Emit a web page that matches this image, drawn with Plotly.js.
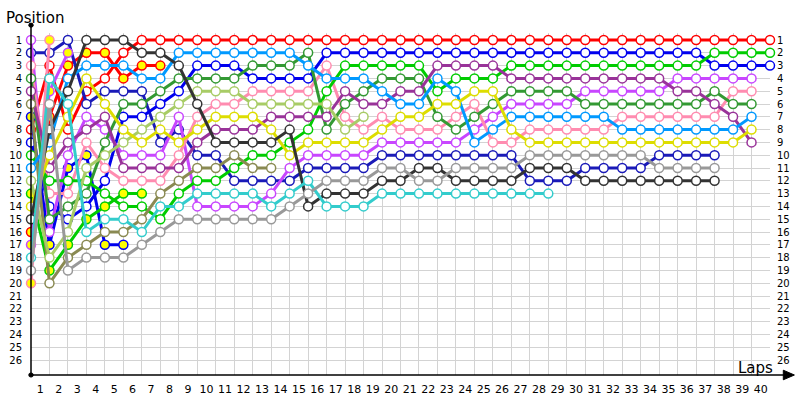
<!DOCTYPE html>
<html><head><meta charset="utf-8">
<script src="https://cdn.plot.ly/plotly-3.0.1.min.js"></script>
<style>body{margin:0;background:#fff}#chart{width:800px;height:400px}</style>
</head><body><div id="chart"></div>
<script>
// positions per lap, index = lap number (0 = grid)
const drivers = ["R","RY","DB","B","BY","V","VY","P","PY","DG","G","GY","PU","OL","LB","LG","Y","K","C","GR"];
const R  = [8,3,8,5,4,2,1,1,1,1,1,1,1,1,1,1,1,1,1,1,1,1,1,1,1,1,1,1,1,1,1,1,1,1,1,1,1,1,1,1,1];
const RY = [16,7,3,2,2,4,3,3];
const DB = [2,2,1,6,5,5,5,9,8,10,10,12,12,12,12,11,11,11,11,10,10,10,10,10,10,10,10,12,12,12,11,11,11,11,10,10,10,10];
const B  = [9,14,15,14,12,7,7,6,5,3,3,3,4,4,4,4,2,2,2,2,2,2,2,2,2,2,2,2,2,2,2,2,2,2,2,2,2,3,3,3,3];
const BY = [7,17,11,10,17,17];
const V  = [1,16,10,7,8,10,10,10,7,14,14,14,14,13,11,10,10,10,10,9,9,9,9,9,8,7,6,6,6,6,5,5,5,5,5,4,4,4,4,4];
const VY = [17,5,2];
const P  = [3,13,13,9,11,12,12,12,10,7,6,6,5,5,5,5,3,7,8,7,8,8,8,7,6,9,9,8,8,8,8,8,7,7,7,7,7,7,5,5];
const PY = [20,1];
const DG = [4,15,14,13,9,6,6,5,4,4,4,4,3,3,3,2,8,6,5,4,4,4,7,8,7,6,5,5,5,5,6,6,6,6,6,6,6,5,6,6];
const G  = [10,12,12,12,13,14,14,15,13,12,12,11,10,10,9,8,5,3,3,3,3,3,5,4,4,4,3,3,3,3,3,3,3,3,3,3,3,2,2,2,2];
const GY = [13,19,17,15,14,13,13];
const PU = [5,11,9,8,7,11,11,11,11,9,8,8,8,7,7,7,7,5,6,6,5,5,3,3,3,3,4,4,4,4,4,4,4,4,4,5,5,6,7,9];
const OL = [6,20,18,17,16,16,15,13,12,11,11,10,11,11];
const LB = [11,9,4,3,3,3,4,4,2,2,2,2,2,2,2,3,4,4,4,5,6,6,4,5,9,8,7,7,7,7,7,7,8,8,8,8,8,8,8,7];
const LG = [12,18,16,11,10,9,8,7,6,5,5,5,6,6,6,6,6,8,7];
const Y  = [14,10,7,4,6,8,9,8,9,8,7,7,7,8,10,9,9,9,9,8,7,7,6,6,5,5,8,9,9,9,9,9,9,9,9,9,9,9,9,8];
const K  = [15,8,5,1,1,1,2,2,3,6,9,9,9,9,8,14,13,13,13,12,12,11,11,12,12,12,12,11,11,11,12,12,12,12,12,12,12,12];
const C  = [18,4,6,16,15,15,16,14,14,13,13,13,13,14,13,12,14,14,14,13,13,13,13,13,13,13,13,13,13];
const GR = [19,6,19,18,18,18,17,16,15,15,15,15,15,15,14,13,12,12,12,11,11,12,12,11,11,11,11,10,10,10,10,10,10,10,11,11,11,11];
const lapLabels = Array.from({length:40},(_,i)=>String(i+1));
const posLabels = Array.from({length:26},(_,i)=>i+1);

const series = {R,RY,DB,B,BY,V,VY,P,PY,DG,G,GY,PU,OL,LB,LG,Y,K,C,GR};
const colors = {R:"#ff0000",RY:"#ff0000",DB:"#1a1ab8",B:"#0000ee",BY:"#0000ee",V:"#c846ff",VY:"#c846ff",
  P:"#ff8cb0",PY:"#ff8cb0",DG:"#339933",G:"#00cc00",GY:"#00cc00",PU:"#993399",OL:"#8a8a52",
  LB:"#0099ff",LG:"#a8cc66",Y:"#dddd00",K:"#333333",C:"#33cccc",GR:"#999999"};
const yellowFill = {RY:1,BY:1,VY:1,PY:1,GY:1};

const traces = drivers.map(d => {
  const ys = series[d];
  return {
    x: ys.map((_,i)=>i), y: ys, type:"scatter", mode:"lines+markers",
    line:{color:colors[d], width:3},
    marker:{symbol:"circle", size:9, color: yellowFill[d] ? "#ffff00" : "#ffffff",
            line:{color:colors[d], width:1.5}},
    hoverinfo:"skip", showlegend:false, cliponaxis:false
  };
});
traces.push({x:[0],y:[1],xaxis:"x2",yaxis:"y2",mode:"markers",marker:{opacity:0},showlegend:false,hoverinfo:"skip"});

const yRange = [27.17, 0.453];
const tickFont = {family:"DejaVu Sans, Verdana, sans-serif", size:10, color:"#000"};
const layout = {
  width:800, height:400, margin:{l:31,r:30,t:33,b:25},
  paper_bgcolor:"#fff", plot_bgcolor:"#fff", showlegend:false,
  xaxis:{range:[0,40], dtick:1, tick0:0, showgrid:true, gridcolor:"#d3d3d3", gridwidth:1,
         showticklabels:false, zeroline:false, showline:false, ticks:""},
  xaxis2:{overlaying:"x", anchor:"y", side:"bottom", range:[0,40],
          tickmode:"array", tickvals:lapLabels.map((_,i)=>i+0.5), ticktext:lapLabels,
          showgrid:false, zeroline:false, ticks:"", ticklabelstandoff:6,
          tickfont:{family:"DejaVu Sans, Verdana, sans-serif", size:11, color:"#000"}},
  yaxis:{range:yRange, tickmode:"array", tickvals:posLabels, showgrid:true,
         gridcolor:"#d3d3d3", gridwidth:1, zeroline:false, showline:false, ticks:"",
         tickfont:tickFont, ticklabelstandoff:8},
  yaxis2:{overlaying:"y", side:"right", anchor:"x", range:yRange, tickmode:"array",
          tickvals:posLabels, showgrid:false, zeroline:false, ticks:"", tickfont:tickFont,
          ticklabelstandoff:6},
  shapes:[
    {type:"line", xref:"paper", yref:"paper", x0:0, y0:0, x1:1.03, y1:0, line:{color:"#000",width:1.5}},
    {type:"path", xref:"paper", yref:"paper", path:"M 1.018 0.014 L 1.033 0 L 1.018 -0.014 Z", fillcolor:"#000", line:{color:"#000",width:1}},
    {type:"line", xref:"paper", yref:"paper", x0:0, y0:0, x1:0, y1:1.023, line:{color:"#000",width:1.5}},
    {type:"circle", xref:"paper", yref:"paper", x0:-0.003, y0:1.017, x1:0.003, y1:1.029, fillcolor:"#000", line:{color:"#000",width:1}},
    {type:"circle", xref:"paper", yref:"paper", x0:-0.003, y0:-0.006, x1:0.003, y1:0.006, fillcolor:"#000", line:{color:"#000",width:1}}
  ],
  annotations:[
    {text:"Position", xref:"paper", yref:"paper", x:-0.037, y:1.076, xanchor:"left", yanchor:"top",
     showarrow:false, font:{family:"DejaVu Sans, Verdana, sans-serif", size:15, color:"#000"}},
    {text:"Laps", xref:"paper", yref:"paper", x:1.007, y:-0.012, xanchor:"right", yanchor:"bottom",
     showarrow:false, font:{family:"DejaVu Sans, Verdana, sans-serif", size:15, color:"#000"}}
  ]
};
Plotly.newPlot("chart", traces, layout, {displayModeBar:false, staticPlot:true});
</script></body></html>
